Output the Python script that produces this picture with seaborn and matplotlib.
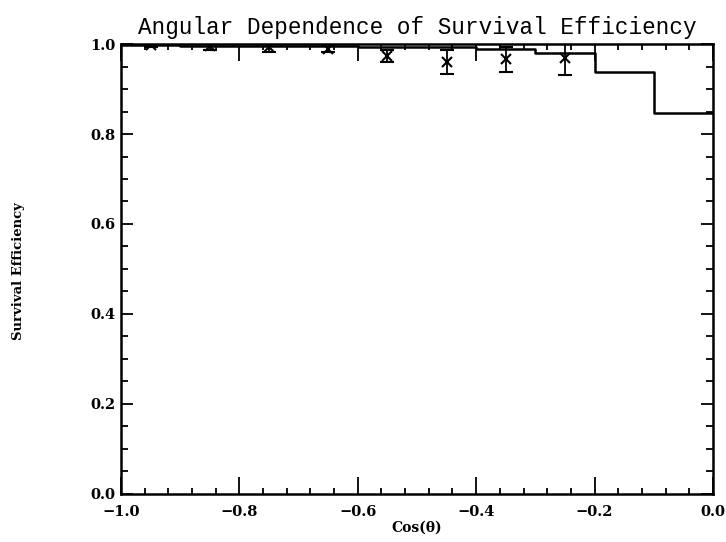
import matplotlib.pyplot as plt
from matplotlib.ticker import MultipleLocator
import seaborn as sns

# histogram (simulated survival efficiency per cos(theta) bin)
bin_edges = [-1.0, -0.9, -0.8, -0.7, -0.6, -0.5, -0.4, -0.3, -0.2, -0.1, 0.0]
hist_eff = [0.998, 0.996, 0.995, 0.996, 0.994, 0.993, 0.988, 0.981, 0.937, 0.846]

# measured points with errors
pt_cos = [-0.95, -0.85, -0.75, -0.65, -0.55, -0.45, -0.35, -0.25]
pt_eff = [0.998, 0.996, 0.994, 0.990, 0.973, 0.960, 0.966, 0.968]
pt_err = [0.005, 0.010, 0.011, 0.007, 0.013, 0.026, 0.028, 0.036]

sns.set_style('ticks')
plt.rcParams['font.family'] = ['DejaVu Serif']
plt.rcParams['xtick.direction'] = 'in'
plt.rcParams['ytick.direction'] = 'in'
for k in ['text.color', 'axes.labelcolor', 'xtick.color', 'ytick.color',
          'axes.edgecolor']:
    plt.rcParams[k] = 'black'

fig = plt.figure(figsize=(7.26, 5.42), dpi=100)
ax = fig.add_axes([0.1667, 0.0886, 0.8153, 0.8302])

centers = [(a + b) / 2 for a, b in zip(bin_edges[:-1], bin_edges[1:])]
sns.histplot(x=centers, weights=hist_eff, bins=bin_edges, element='step',
             fill=False, color='black', linewidth=1.8, ax=ax)

ax.errorbar(pt_cos, pt_eff, yerr=pt_err, fmt='x', color='black', ms=7,
            mew=1.5, elinewidth=1.3, capsize=5, capthick=1.5)

ax.set_xlim(-1.0, 0.0)
ax.set_ylim(0.0, 1.0)
ax.xaxis.set_major_locator(MultipleLocator(0.2))
ax.xaxis.set_minor_locator(MultipleLocator(0.04))
ax.yaxis.set_major_locator(MultipleLocator(0.2))
ax.yaxis.set_minor_locator(MultipleLocator(0.05))
ax.tick_params(which='both', top=True, right=True, width=1.3)
ax.tick_params(axis='x', which='major', length=12, pad=8)
ax.tick_params(axis='x', which='minor', length=4.5)
ax.tick_params(axis='y', which='major', length=8.5, pad=4)
ax.tick_params(axis='y', which='minor', length=5)
ax.set_xticklabels([f'{v:.1f}'.replace('-', '\u2212') for v in ax.get_xticks()],
                   fontweight='bold', fontsize=10.5)
ax.set_yticklabels([f'{v:.1f}' for v in ax.get_yticks()],
                   fontweight='bold', fontsize=10.5)
for s in ax.spines.values():
    s.set_linewidth(1.8)
    s.set_visible(True)

ax.set_xlabel('Cos(\u03b8)', fontweight='bold', fontsize=10, labelpad=1)
ax.set_ylabel('')
fig.text(0.025, 0.5, 'Survival Efficiency', rotation=90, ha='center',
         va='center', fontweight='bold', fontsize=9.5)
ax.set_title('Angular Dependence of Survival Efficiency', fontsize=16.3,
             family='Liberation Mono', pad=7)

fig.savefig('out.png', dpi=100)
